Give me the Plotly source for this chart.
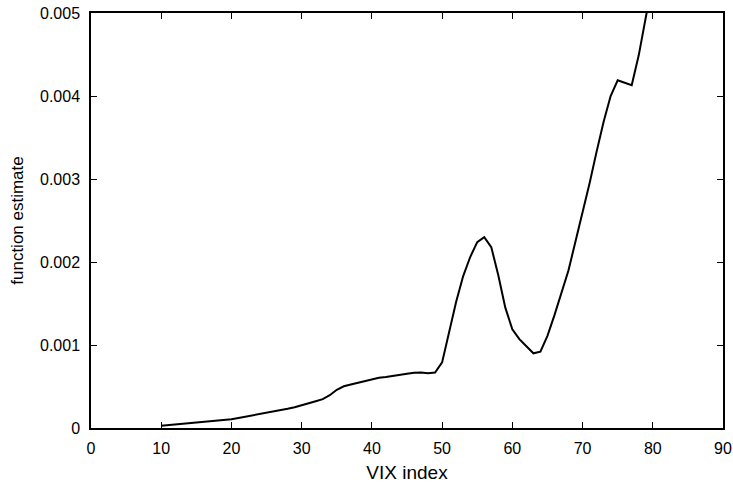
import plotly.graph_objects as go

vix = list(range(10, 81))
estimate = [
    0.000028, 0.000035, 0.000042, 0.000048, 0.000055, 0.000064, 0.000072, 0.000082, 0.000090, 0.000097,
    0.000105, 0.000120, 0.000135, 0.000150, 0.000167, 0.000183, 0.000200, 0.000212, 0.000232, 0.000250,
    0.000272, 0.000300, 0.000322, 0.000348, 0.000395, 0.000460, 0.000503, 0.000525, 0.000545, 0.000565,
    0.000590, 0.000605, 0.000615, 0.000630, 0.000640, 0.000655, 0.000665, 0.000668, 0.000660, 0.000668,
    0.000790, 0.001160, 0.001520, 0.001830, 0.002060, 0.002240, 0.002300, 0.002180, 0.001840, 0.001450,
    0.001190, 0.001070, 0.000980, 0.000900, 0.000920, 0.001110, 0.001360, 0.001620, 0.001900, 0.002250,
    0.002590, 0.002950, 0.003330, 0.003690, 0.004000, 0.004190, 0.004160, 0.004130, 0.004490, 0.004970,
    0.005400,
]

x_ticks = [0, 10, 20, 30, 40, 50, 60, 70, 80, 90]
y_ticks = [0, 0.001, 0.002, 0.003, 0.004, 0.005]
y_tick_labels = ["0", "0.001", "0.002", "0.003", "0.004", "0.005"]

fig = go.Figure()
fig.add_trace(go.Scatter(
    x=vix, y=estimate, mode="lines",
    line=dict(color="black", width=2),
    showlegend=False, hoverinfo="skip",
))

font_family = "Liberation Sans, Arial, sans-serif"

fig.update_layout(
    width=733, height=487,
    margin=dict(l=91, r=10, t=13, b=59),
    paper_bgcolor="white", plot_bgcolor="white",
    font=dict(family=font_family, color="black", size=16),
    xaxis=dict(
        range=[0, 90], tickvals=x_ticks, ticktext=[str(v) for v in x_ticks],
        ticks="inside", ticklen=6, tickwidth=1, tickcolor="black",
        showline=True, linecolor="black", linewidth=1.5, mirror="allticks",
        showgrid=False, zeroline=False, automargin=False,
        tickfont=dict(size=16), ticklabelstandoff=5,
        title=dict(text="VIX index", font=dict(size=19), standoff=10),
    ),
    yaxis=dict(
        range=[0, 0.005], tickvals=y_ticks, ticktext=y_tick_labels,
        ticks="inside", ticklen=6, tickwidth=1, tickcolor="black",
        showline=True, linecolor="black", linewidth=1.5, mirror="allticks",
        showgrid=False, zeroline=False, automargin=False,
        tickfont=dict(size=16), ticklabelstandoff=6,
        title=dict(text="function estimate", font=dict(size=17), standoff=12),
    ),
)

fig.write_html("out.html")
